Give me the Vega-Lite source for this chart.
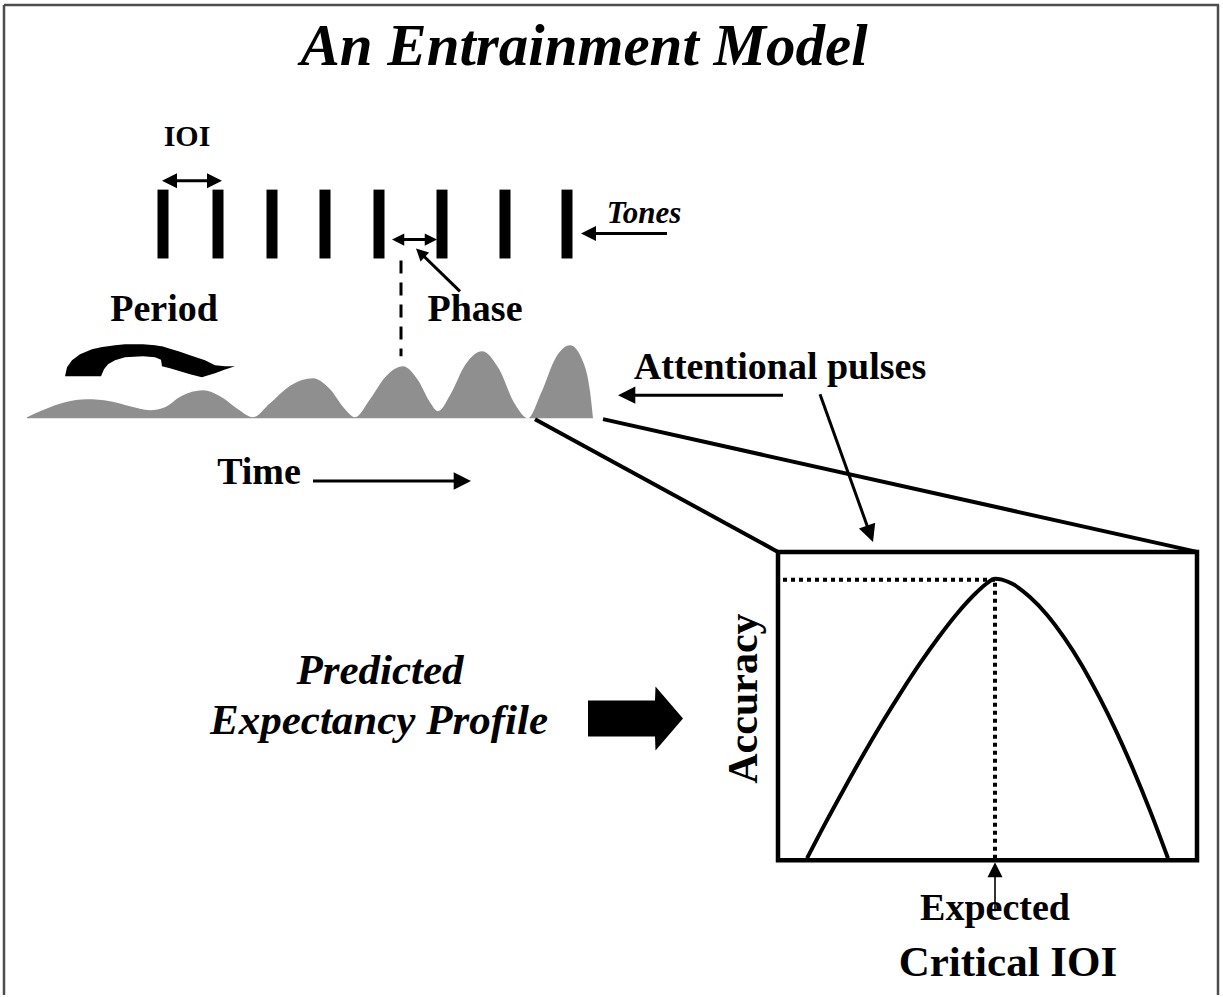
{
 "$schema": "https://vega.github.io/schema/vega-lite/v6.json",
 "width": 1223, "height": 997,
 "autosize": {"type": "fit", "contains": "padding"},
 "padding": 0,
 "background": "white",
 "config": {"view": {"stroke": null}},
 "layer": [
  {
   "data": {"values": [
    {"part": "top", "x": 4, "y": 5, "x2": 1219, "y2": 5},
    {"part": "left", "x": 4, "y": 5, "x2": 4, "y2": 997},
    {"part": "right", "x": 1218, "y": 5, "x2": 1218, "y2": 997}
   ]},
   "mark": {"type": "rule", "color": "#4d4d4d", "strokeWidth": 2.5},
   "encoding": {
    "x": {"field": "x", "type": "quantitative", "scale": {"domain": [0, 1223], "nice": false, "zero": false}, "axis": null},
    "y": {"field": "y", "type": "quantitative", "scale": {"domain": [0, 997], "nice": false, "zero": false, "reverse": true}, "axis": null},
    "x2": {"field": "x2"}, "y2": {"field": "y2"}
   }
  },
  {
   "data": {"values": [
    {"tone": 1, "x": 163, "y": 190, "y2": 259},
    {"tone": 2, "x": 218, "y": 190, "y2": 259},
    {"tone": 3, "x": 272, "y": 190, "y2": 259},
    {"tone": 4, "x": 325, "y": 190, "y2": 259},
    {"tone": 5, "x": 379, "y": 190, "y2": 259},
    {"tone": 6, "x": 442, "y": 190, "y2": 259},
    {"tone": 7, "x": 505, "y": 190, "y2": 259},
    {"tone": 8, "x": 567, "y": 190, "y2": 259}
   ]},
   "mark": {"type": "rule", "color": "#000", "strokeWidth": 11, "strokeCap": "butt"},
   "encoding": {
    "x": {"field": "x", "type": "quantitative", "scale": {"domain": [0, 1223], "nice": false, "zero": false}, "axis": null},
    "y": {"field": "y", "type": "quantitative", "scale": {"domain": [0, 997], "nice": false, "zero": false, "reverse": true}, "axis": null},
    "y2": {"field": "y2"}
   }
  },
  {
   "data": {"values": [
    {"arrow": "IOI", "x": 166, "y": 181, "x2": 218, "y2": 181},
    {"arrow": "Phase", "x": 396, "y": 240, "x2": 433, "y2": 240},
    {"arrow": "Phase pointer", "x": 460, "y": 292, "x2": 422, "y2": 255},
    {"arrow": "Tones", "x": 667, "y": 234, "x2": 590, "y2": 234},
    {"arrow": "Time", "x": 313, "y": 482, "x2": 460, "y2": 482},
    {"arrow": "Attentional left", "x": 783, "y": 396, "x2": 628, "y2": 396},
    {"arrow": "Attentional down", "x": 820, "y": 395, "x2": 869, "y2": 532}
   ]},
   "mark": {"type": "rule", "color": "#000", "strokeWidth": 3},
   "encoding": {
    "x": {"field": "x", "type": "quantitative", "scale": {"domain": [0, 1223], "nice": false, "zero": false}, "axis": null},
    "y": {"field": "y", "type": "quantitative", "scale": {"domain": [0, 997], "nice": false, "zero": false, "reverse": true}, "axis": null},
    "x2": {"field": "x2"}, "y2": {"field": "y2"}
   }
  },
  {
   "data": {"values": [
    {"arrow": "Expected", "x": 995, "y": 913, "x2": 995, "y2": 875}
   ]},
   "mark": {"type": "rule", "color": "#000", "strokeWidth": 1.6},
   "encoding": {
    "x": {"field": "x", "type": "quantitative", "scale": {"domain": [0, 1223], "nice": false, "zero": false}, "axis": null},
    "y": {"field": "y", "type": "quantitative", "scale": {"domain": [0, 997], "nice": false, "zero": false, "reverse": true}, "axis": null},
    "x2": {"field": "x2"}, "y2": {"field": "y2"}
   }
  },
  {
   "data": {"values": [
    {"head": "IOI left", "x": 162, "y": 181, "heading": 180},
    {"head": "IOI right", "x": 222, "y": 181, "heading": 0},
    {"head": "Tones", "x": 581, "y": 234, "heading": 180},
    {"head": "Expected", "x": 995, "y": 864, "heading": 270}
   ]},
   "mark": {"type": "point", "shape": "M0,0L-2,-1L-2,1Z", "filled": true, "color": "#000", "opacity": 1, "size": 225},
   "encoding": {
    "x": {"field": "x", "type": "quantitative", "scale": {"domain": [0, 1223], "nice": false, "zero": false}, "axis": null},
    "y": {"field": "y", "type": "quantitative", "scale": {"domain": [0, 997], "nice": false, "zero": false, "reverse": true}, "axis": null},
    "angle": {"field": "heading", "type": "quantitative", "scale": null}
   }
  },
  {
   "data": {"values": [
    {"head": "Phase left", "x": 392, "y": 240, "heading": 180},
    {"head": "Phase right", "x": 437, "y": 240, "heading": 0},
    {"head": "Phase pointer", "x": 416, "y": 249, "heading": 224}
   ]},
   "mark": {"type": "point", "shape": "M0,0L-2,-1L-2,1Z", "filled": true, "color": "#000", "opacity": 1, "size": 150},
   "encoding": {
    "x": {"field": "x", "type": "quantitative", "scale": {"domain": [0, 1223], "nice": false, "zero": false}, "axis": null},
    "y": {"field": "y", "type": "quantitative", "scale": {"domain": [0, 997], "nice": false, "zero": false, "reverse": true}, "axis": null},
    "angle": {"field": "heading", "type": "quantitative", "scale": null}
   }
  },
  {
   "data": {"values": [
    {"head": "Time", "x": 471, "y": 482, "heading": 0},
    {"head": "Attentional left", "x": 618, "y": 396, "heading": 180},
    {"head": "Attentional down", "x": 873, "y": 543, "heading": 70}
   ]},
   "mark": {"type": "point", "shape": "M0,0L-2,-1L-2,1Z", "filled": true, "color": "#000", "opacity": 1, "size": 300},
   "encoding": {
    "x": {"field": "x", "type": "quantitative", "scale": {"domain": [0, 1223], "nice": false, "zero": false}, "axis": null},
    "y": {"field": "y", "type": "quantitative", "scale": {"domain": [0, 997], "nice": false, "zero": false, "reverse": true}, "axis": null},
    "angle": {"field": "heading", "type": "quantitative", "scale": null}
   }
  },
  {
   "data": {"values": [
    {"x": 401, "y": 261, "y2": 357}
   ]},
   "mark": {"type": "rule", "color": "#000", "strokeWidth": 3, "strokeDash": [13, 9], "strokeCap": "butt"},
   "encoding": {
    "x": {"field": "x", "type": "quantitative", "scale": {"domain": [0, 1223], "nice": false, "zero": false}, "axis": null},
    "y": {"field": "y", "type": "quantitative", "scale": {"domain": [0, 997], "nice": false, "zero": false, "reverse": true}, "axis": null},
    "y2": {"field": "y2"}
   }
  },
  {
   "data": {"values": [
    {"x": 27, "y": 418, "y2": 419}, {"x": 45, "y": 410, "y2": 419}, {"x": 65, "y": 403, "y2": 419},
    {"x": 87, "y": 400, "y2": 419}, {"x": 110, "y": 402, "y2": 419}, {"x": 130, "y": 407, "y2": 419},
    {"x": 150, "y": 411, "y2": 419}, {"x": 165, "y": 408, "y2": 419}, {"x": 181, "y": 397, "y2": 419},
    {"x": 203, "y": 391, "y2": 419}, {"x": 220, "y": 397, "y2": 419}, {"x": 238, "y": 410, "y2": 419},
    {"x": 253, "y": 418, "y2": 419}, {"x": 270, "y": 404, "y2": 419}, {"x": 291, "y": 386, "y2": 419},
    {"x": 313, "y": 379, "y2": 419}, {"x": 330, "y": 390, "y2": 419}, {"x": 345, "y": 410, "y2": 419},
    {"x": 355, "y": 418, "y2": 419}, {"x": 370, "y": 400, "y2": 419}, {"x": 386, "y": 377, "y2": 419},
    {"x": 403, "y": 367, "y2": 419}, {"x": 418, "y": 381, "y2": 419}, {"x": 430, "y": 403, "y2": 419},
    {"x": 438, "y": 412, "y2": 419}, {"x": 450, "y": 396, "y2": 419}, {"x": 465, "y": 366, "y2": 419},
    {"x": 482, "y": 352, "y2": 419}, {"x": 498, "y": 368, "y2": 419}, {"x": 515, "y": 405, "y2": 419},
    {"x": 528, "y": 419, "y2": 419}, {"x": 541, "y": 394, "y2": 419}, {"x": 556, "y": 358, "y2": 419},
    {"x": 570, "y": 346, "y2": 419}, {"x": 582, "y": 360, "y2": 419}, {"x": 590, "y": 392, "y2": 419},
    {"x": 593, "y": 419, "y2": 419}
   ]},
   "mark": {"type": "area", "color": "#8f8f8f", "opacity": 1, "interpolate": "monotone"},
   "encoding": {
    "x": {"field": "x", "type": "quantitative", "scale": {"domain": [0, 1223], "nice": false, "zero": false}, "axis": null},
    "y": {"field": "y", "type": "quantitative", "scale": {"domain": [0, 997], "nice": false, "zero": false, "reverse": true}, "axis": null},
    "y2": {"field": "y2"}
   }
  },
  {
   "data": {"values": [
    {"x": 65, "y": 377, "y2": 377}, {"x": 67, "y": 368, "y2": 377}, {"x": 72, "y": 361, "y2": 377},
    {"x": 80, "y": 355, "y2": 377}, {"x": 92, "y": 350, "y2": 377}, {"x": 101, "y": 348, "y2": 377},
    {"x": 104, "y": 347.5, "y2": 370}, {"x": 108, "y": 347, "y2": 365}, {"x": 115, "y": 346, "y2": 361},
    {"x": 125, "y": 345, "y2": 358}, {"x": 143, "y": 345, "y2": 357}, {"x": 155, "y": 346, "y2": 358},
    {"x": 161, "y": 347, "y2": 360.5}, {"x": 162, "y": 347, "y2": 367}, {"x": 170, "y": 349.5, "y2": 369},
    {"x": 180, "y": 352.5, "y2": 372}, {"x": 190, "y": 356, "y2": 375}, {"x": 202, "y": 360, "y2": 378},
    {"x": 205, "y": 361, "y2": 377}, {"x": 215, "y": 366, "y2": 374}, {"x": 225, "y": 367, "y2": 370.3},
    {"x": 235, "y": 367, "y2": 367}
   ]},
   "mark": {"type": "area", "color": "#000", "opacity": 1, "interpolate": "linear"},
   "encoding": {
    "x": {"field": "x", "type": "quantitative", "scale": {"domain": [0, 1223], "nice": false, "zero": false}, "axis": null},
    "y": {"field": "y", "type": "quantitative", "scale": {"domain": [0, 997], "nice": false, "zero": false, "reverse": true}, "axis": null},
    "y2": {"field": "y2"}
   }
  },
  {
   "data": {"values": [
    {"link": "left", "x": 535, "y": 420, "x2": 778, "y2": 553},
    {"link": "right", "x": 603, "y": 420, "x2": 1197, "y2": 553}
   ]},
   "mark": {"type": "rule", "color": "#000", "strokeWidth": 4},
   "encoding": {
    "x": {"field": "x", "type": "quantitative", "scale": {"domain": [0, 1223], "nice": false, "zero": false}, "axis": null},
    "y": {"field": "y", "type": "quantitative", "scale": {"domain": [0, 997], "nice": false, "zero": false, "reverse": true}, "axis": null},
    "x2": {"field": "x2"}, "y2": {"field": "y2"}
   }
  },
  {
   "data": {"values": [
    {"x": 778, "x2": 1197, "y": 553, "y2": 862}
   ]},
   "mark": {"type": "rect", "filled": false, "stroke": "#000", "strokeWidth": 4.5},
   "encoding": {
    "x": {"field": "x", "type": "quantitative", "scale": {"domain": [0, 1223], "nice": false, "zero": false}, "axis": null},
    "y": {"field": "y", "type": "quantitative", "scale": {"domain": [0, 997], "nice": false, "zero": false, "reverse": true}, "axis": null},
    "x2": {"field": "x2"}, "y2": {"field": "y2"}
   }
  },
  {
   "data": {"values": [
    {"x": 807, "y": 860}, {"x": 825.8, "y": 824}, {"x": 844.6, "y": 789.5}, {"x": 863.4, "y": 756},
    {"x": 882.2, "y": 724}, {"x": 901, "y": 693.7}, {"x": 919.8, "y": 665}, {"x": 938.6, "y": 638.5},
    {"x": 957.4, "y": 614.4}, {"x": 976.2, "y": 594}, {"x": 987.5, "y": 584}, {"x": 995, "y": 580},
    {"x": 1001.9, "y": 580.8}, {"x": 1012.3, "y": 585}, {"x": 1029.6, "y": 598}, {"x": 1046.9, "y": 616},
    {"x": 1064.2, "y": 639}, {"x": 1081.5, "y": 666}, {"x": 1098.8, "y": 697.6}, {"x": 1116.1, "y": 732.6},
    {"x": 1133.4, "y": 771.5}, {"x": 1150.7, "y": 814}, {"x": 1168, "y": 860}
   ]},
   "mark": {"type": "line", "color": "#000", "strokeWidth": 4, "interpolate": "monotone"},
   "encoding": {
    "x": {"field": "x", "type": "quantitative", "scale": {"domain": [0, 1223], "nice": false, "zero": false}, "axis": null},
    "y": {"field": "y", "type": "quantitative", "scale": {"domain": [0, 997], "nice": false, "zero": false, "reverse": true}, "axis": null}
   }
  },
  {
   "data": {"values": [
    {"guide": "peak accuracy", "x": 783, "y": 581, "x2": 995, "y2": 581},
    {"guide": "expected IOI", "x": 995, "y": 584, "x2": 995, "y2": 860}
   ]},
   "mark": {"type": "rule", "color": "#000", "strokeWidth": 4, "strokeDash": [4, 4], "strokeCap": "butt"},
   "encoding": {
    "x": {"field": "x", "type": "quantitative", "scale": {"domain": [0, 1223], "nice": false, "zero": false}, "axis": null},
    "y": {"field": "y", "type": "quantitative", "scale": {"domain": [0, 997], "nice": false, "zero": false, "reverse": true}, "axis": null},
    "x2": {"field": "x2"}, "y2": {"field": "y2"}
   }
  },
  {
   "data": {"values": [
    {"x": 588, "y": 702, "y2": 738}, {"x": 655, "y": 702, "y2": 738},
    {"x": 655.5, "y": 688, "y2": 752}, {"x": 683, "y": 720, "y2": 720}
   ]},
   "mark": {"type": "area", "color": "#000", "opacity": 1, "interpolate": "linear"},
   "encoding": {
    "x": {"field": "x", "type": "quantitative", "scale": {"domain": [0, 1223], "nice": false, "zero": false}, "axis": null},
    "y": {"field": "y", "type": "quantitative", "scale": {"domain": [0, 997], "nice": false, "zero": false, "reverse": true}, "axis": null},
    "y2": {"field": "y2"}
   }
  },
  {
   "data": {"values": [
    {"t": "An Entrainment Model", "x": 584, "y": 65}
   ]},
   "mark": {"type": "text", "font": "Liberation Serif", "fontWeight": "bold", "fontStyle": "italic", "fontSize": 59, "align": "center", "baseline": "alphabetic", "color": "#000"},
   "encoding": {
    "x": {"field": "x", "type": "quantitative", "scale": {"domain": [0, 1223], "nice": false, "zero": false}, "axis": null},
    "y": {"field": "y", "type": "quantitative", "scale": {"domain": [0, 997], "nice": false, "zero": false, "reverse": true}, "axis": null},
    "text": {"field": "t", "type": "nominal"}
   }
  },
  {
   "data": {"values": [
    {"t": "IOI", "x": 187, "y": 146}
   ]},
   "mark": {"type": "text", "font": "Liberation Serif", "fontWeight": "bold", "fontSize": 30, "align": "center", "baseline": "alphabetic", "color": "#000"},
   "encoding": {
    "x": {"field": "x", "type": "quantitative", "scale": {"domain": [0, 1223], "nice": false, "zero": false}, "axis": null},
    "y": {"field": "y", "type": "quantitative", "scale": {"domain": [0, 997], "nice": false, "zero": false, "reverse": true}, "axis": null},
    "text": {"field": "t", "type": "nominal"}
   }
  },
  {
   "data": {"values": [
    {"t": "Tones", "x": 644, "y": 223}
   ]},
   "mark": {"type": "text", "font": "Liberation Serif", "fontWeight": "bold", "fontStyle": "italic", "fontSize": 31, "align": "center", "baseline": "alphabetic", "color": "#000"},
   "encoding": {
    "x": {"field": "x", "type": "quantitative", "scale": {"domain": [0, 1223], "nice": false, "zero": false}, "axis": null},
    "y": {"field": "y", "type": "quantitative", "scale": {"domain": [0, 997], "nice": false, "zero": false, "reverse": true}, "axis": null},
    "text": {"field": "t", "type": "nominal"}
   }
  },
  {
   "data": {"values": [
    {"t": "Period", "x": 164, "y": 322},
    {"t": "Phase", "x": 475, "y": 322},
    {"t": "Attentional pulses", "x": 780, "y": 380},
    {"t": "Time", "x": 259, "y": 485},
    {"t": "Expected", "x": 995, "y": 922}
   ]},
   "mark": {"type": "text", "font": "Liberation Serif", "fontWeight": "bold", "fontSize": 38, "align": "center", "baseline": "alphabetic", "color": "#000"},
   "encoding": {
    "x": {"field": "x", "type": "quantitative", "scale": {"domain": [0, 1223], "nice": false, "zero": false}, "axis": null},
    "y": {"field": "y", "type": "quantitative", "scale": {"domain": [0, 997], "nice": false, "zero": false, "reverse": true}, "axis": null},
    "text": {"field": "t", "type": "nominal"}
   }
  },
  {
   "data": {"values": [
    {"t": "Critical IOI", "x": 1008, "y": 978}
   ]},
   "mark": {"type": "text", "font": "Liberation Serif", "fontWeight": "bold", "fontSize": 43, "align": "center", "baseline": "alphabetic", "color": "#000"},
   "encoding": {
    "x": {"field": "x", "type": "quantitative", "scale": {"domain": [0, 1223], "nice": false, "zero": false}, "axis": null},
    "y": {"field": "y", "type": "quantitative", "scale": {"domain": [0, 997], "nice": false, "zero": false, "reverse": true}, "axis": null},
    "text": {"field": "t", "type": "nominal"}
   }
  },
  {
   "data": {"values": [
    {"t": "Predicted", "x": 380, "y": 685},
    {"t": "Expectancy Profile", "x": 379, "y": 735}
   ]},
   "mark": {"type": "text", "font": "Liberation Serif", "fontWeight": "bold", "fontStyle": "italic", "fontSize": 43, "align": "center", "baseline": "alphabetic", "color": "#000"},
   "encoding": {
    "x": {"field": "x", "type": "quantitative", "scale": {"domain": [0, 1223], "nice": false, "zero": false}, "axis": null},
    "y": {"field": "y", "type": "quantitative", "scale": {"domain": [0, 997], "nice": false, "zero": false, "reverse": true}, "axis": null},
    "text": {"field": "t", "type": "nominal"}
   }
  },
  {
   "data": {"values": [
    {"t": "Accuracy", "x": 757, "y": 700}
   ]},
   "mark": {"type": "text", "font": "Liberation Serif", "fontWeight": "bold", "fontSize": 42, "angle": 270, "align": "center", "baseline": "alphabetic", "color": "#000"},
   "encoding": {
    "x": {"field": "x", "type": "quantitative", "scale": {"domain": [0, 1223], "nice": false, "zero": false}, "axis": null},
    "y": {"field": "y", "type": "quantitative", "scale": {"domain": [0, 997], "nice": false, "zero": false, "reverse": true}, "axis": null},
    "text": {"field": "t", "type": "nominal"}
   }
  }
 ]
}
